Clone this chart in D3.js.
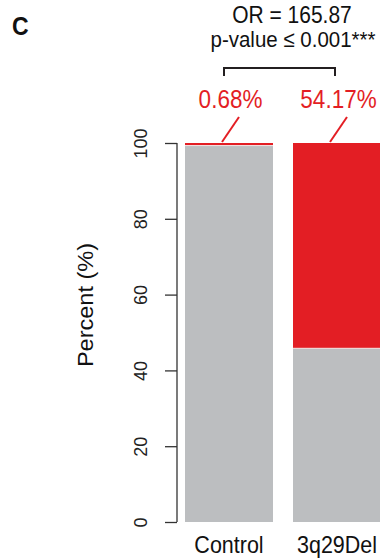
<!DOCTYPE html>
<html>
<head>
<meta charset="utf-8">
<script src="https://cdn.jsdelivr.net/npm/d3@7"></script>
<style>
  html, body { margin: 0; padding: 0; background: #fff; }
  svg { display: block; }
  text { font-family: "Liberation Sans", Arial, Helvetica, sans-serif; }
</style>
</head>
<body>
<svg id="chart" width="380" height="558"></svg>
<script>
const categories = ["Control", "3q29Del"];
const affected = [0.68, 54.17];           // red segment (%)
const unaffected = [99.32, 45.83];        // gray segment (%)
const pctLabels = ["0.68%", "54.17%"];
const yTicks = [0, 20, 40, 60, 80, 100];
const statLines = ["OR = 165.87", "p-value \u2264 0.001***"];

const svg = d3.select("#chart");
const y = d3.scaleLinear().domain([0, 100]).range([522, 143]);
const x = d3.scaleBand().domain(categories).range([185, 381]).paddingInner(20 / 108).paddingOuter(0);

const gray = "#bcbec0", red = "#e31e24", ink = "#333333";
const STRETCH = 1.12;

// bars
categories.forEach((c, i) => {
  svg.append("rect")
    .attr("x", x(c)).attr("width", x.bandwidth())
    .attr("y", y(unaffected[i])).attr("height", y(0) - y(unaffected[i]))
    .attr("fill", gray);
  svg.append("rect")
    .attr("x", x(c)).attr("width", x.bandwidth())
    .attr("y", y(100)).attr("height", y(unaffected[i]) - y(100))
    .attr("fill", red);
  svg.append("line")
    .attr("x1", x(c)).attr("x2", x(c) + x.bandwidth())
    .attr("y1", y(unaffected[i])).attr("y2", y(unaffected[i]))
    .attr("stroke", "#f2e6e6").attr("stroke-width", 1);
});

// y axis
const yAxis = d3.axisLeft(y).tickValues(yTicks).tickSize(12).tickPadding(0);
const gA = svg.append("g").attr("transform", "translate(177,0)").call(yAxis);
gA.select(".domain").attr("stroke", ink).attr("stroke-width", 1.3).attr("d", `M0,${y(0)}V${y(100)}`);
gA.selectAll(".tick line").attr("stroke", ink).attr("stroke-width", 1.3);
gA.selectAll(".tick text")
  .attr("fill", "#222").attr("font-size", 18)
  .attr("text-anchor", "middle")
  .attr("x", null).attr("dy", null)
  .attr("transform", "translate(-30,0) rotate(-90)");

// y label
svg.append("text")
  .attr("transform", "translate(93,305) rotate(-90) scale(1.07,1)")
  .attr("text-anchor", "middle").attr("font-size", 22).attr("fill", "#111")
  .text("Percent (%)");

// helper for horizontal text with slight vertical stretch
function htext(px, py, str, size, fill, anchor, weight) {
  return svg.append("text")
    .attr("transform", `translate(${px},${py}) scale(1,${STRETCH})`)
    .attr("text-anchor", anchor).attr("font-size", size)
    .attr("font-weight", weight || "normal").attr("fill", fill).text(str);
}

// x labels
const xAxis = d3.axisBottom(x).tickSize(0).tickPadding(0);
const gX = svg.append("g").attr("transform", "translate(0,553)").call(xAxis);
gX.select(".domain").remove();
gX.selectAll(".tick text").attr("font-size", 21.5).attr("fill", "#111")
  .attr("dy", 0).attr("y", 0).attr("transform", `scale(1,${STRETCH})`);

// percentage labels + leader lines
categories.forEach((c, i) => {
  const cx = x(c) + x.bandwidth() / 2;
  htext(cx + 1.5, 108, pctLabels[i], 22.5, red, "middle");
  svg.append("line")
    .attr("x1", cx + 10).attr("y1", 117).attr("x2", cx - 7).attr("y2", y(100) - 1)
    .attr("stroke", red).attr("stroke-width", 2);
});

// bracket
const bx1 = x(categories[0]) + x.bandwidth() / 2 - 5;
const bx2 = x(categories[1]) + x.bandwidth() / 2 - 2;
svg.append("path")
  .attr("d", `M${bx1},76V68H${bx2}V76`)
  .attr("fill", "none").attr("stroke", "#231f20").attr("stroke-width", 2);

// stats text
htext(292, 23, statLines[0], 21, "#111", "middle");
htext(293, 47, statLines[1], 20.5, "#111", "middle");

// panel letter
htext(12, 35, "C", 23, "#111", "start", "bold");
</script>
</body>
</html>
